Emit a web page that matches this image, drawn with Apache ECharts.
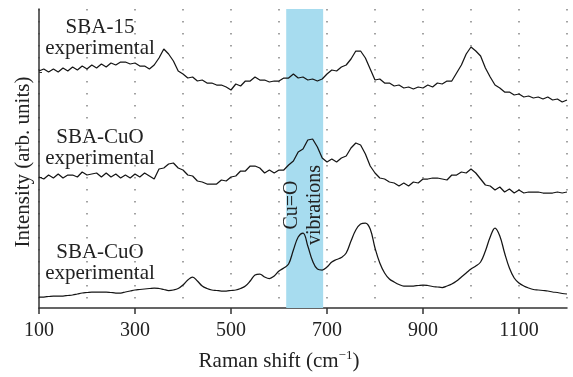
<!DOCTYPE html>
<html>
<head>
<meta charset="utf-8">
<script src="https://cdn.jsdelivr.net/npm/echarts@6/dist/echarts.min.js"></script>
<style>
html, body { margin: 0; padding: 0; background: #fff; }
#chart { width: 573px; height: 377px; }
</style>
</head>
<body>
<div id="chart"></div>
<script>
// Raman shift grid (cm-1)
var ramanShift = [
    100, 110, 120, 130, 140, 150, 160, 170, 180, 190,
    200, 210, 220, 230, 240, 250, 260, 270, 280, 290,
    300, 310, 320, 330, 340, 350, 360, 370, 380, 390,
    400, 410, 420, 430, 440, 450, 460, 470, 480, 490,
    500, 510, 520, 530, 540, 550, 560, 570, 580, 590,
    600, 610, 620, 630, 640, 650, 660, 670, 680, 690,
    700, 710, 720, 730, 740, 750, 760, 770, 780, 790,
    800, 810, 820, 830, 840, 850, 860, 870, 880, 890,
    900, 910, 920, 930, 940, 950, 960, 970, 980, 990,
    1000, 1010, 1020, 1030, 1040, 1050, 1060, 1070, 1080, 1090,
    1100, 1110, 1120, 1130, 1140, 1150, 1160, 1170, 1180, 1190,
    1200
];
// SBA-15 experimental (offset, arb. units)
var sba15 = [
    237, 239, 236, 239, 236, 240, 237, 241, 238, 242,
    239, 243, 240, 244, 241, 245, 243, 246, 246, 244,
    245, 242, 242, 239, 243, 250, 259, 254, 247, 237,
    234, 230, 231, 227, 228, 225, 225, 223, 223, 221,
    218, 224, 222, 227, 227, 231, 228, 228, 226, 227,
    227, 230, 230, 234, 230, 231, 228, 229, 227, 229,
    234, 238, 237, 241, 243, 249, 257, 257, 250, 239,
    228, 229, 225, 225, 222, 223, 220, 221, 219, 221,
    220, 223, 221, 225, 224, 227, 227, 235, 243, 254,
    261, 257, 252, 240, 231, 223, 220, 216, 216, 213,
    214, 211, 212, 210, 211, 209, 211, 208, 209, 206,
    208
];
// SBA-CuO experimental (offset)
var sbaCuO = [
    131, 129, 133, 130, 134, 130, 133, 133, 131, 136,
    133, 134, 135, 131, 135, 131, 134, 130, 133, 130,
    134, 131, 135, 132, 129, 139, 140, 144, 145, 140,
    138, 133, 132, 127, 126, 124, 124, 124, 128, 127,
    131, 132, 137, 137, 142, 142, 140, 135, 138, 135,
    138, 138, 143, 147, 156, 159, 168, 169, 161, 150,
    146, 149, 146, 150, 152, 160, 165, 163, 154, 142,
    135, 130, 129, 126, 125, 122, 125, 122, 126, 125,
    129, 129, 130, 130, 129, 128, 133, 133, 136, 135,
    139, 135, 129, 123, 122, 118, 121, 116, 119, 115,
    118, 115, 116, 116, 116, 115, 115, 115, 116, 115,
    116
];
// SBA-CuO (smooth, bottom)
var sbaCuOFit = [
    11, 11, 11.5, 12, 12, 12, 12.5, 13, 14, 15,
    15.5, 16, 16, 16, 16, 15.5, 15, 15, 16, 17,
    18, 18.5, 19, 19.5, 20, 19.5, 18.5, 17.5, 18, 19.5,
    23, 28, 31, 27, 22, 19.5, 18, 17.5, 17, 17,
    17.5, 18, 19.5, 22, 27, 33, 34, 31, 29.5, 32,
    37, 40, 44, 58, 71, 75, 62, 47, 39, 38,
    41, 46, 48.5, 50.5, 55, 67, 78, 84, 85, 79,
    60, 45, 35, 29, 26, 23.5, 22, 22, 22, 22.5,
    23, 22.5, 21.5, 21, 20.5, 22, 24, 27, 31, 35,
    39, 42, 46, 57, 71, 80, 72, 55, 40, 30,
    25, 22, 20, 18.5, 18, 17.5, 17, 16, 15.5, 14.5,
    14
];
var xTickLabels = [100, 300, 500, 700, 900, 1100];
var bandStart = 615;
var bandEnd = 692;
var baseTicks = [236, 131];

var font = '"Liberation Serif", "DejaVu Serif", serif';
var chart = echarts.init(document.getElementById('chart'));

function pairs(ys) {
    return ramanShift.map(function (x, i) { return [x, ys[i]]; });
}

var traceStyle = { color: '#151515', width: 1.25 };

var option = {
    animation: false,
    grid: { left: 39, right: 6, top: 9, bottom: 69, outerBoundsMode: 'none', containLabel: false },
    xAxis: [{
        type: 'value',
        min: 100,
        max: 1200,
        interval: 200,
        axisLine: { show: true, lineStyle: { color: '#333', width: 1.5 } },
        axisTick: { show: true, length: 6, customValues: xTickLabels, lineStyle: { color: '#333', width: 1.5 } },
        axisLabel: {
            margin: 13, fontSize: 20, fontFamily: font, color: '#222',
            customValues: xTickLabels,
            formatter: function (v) { return xTickLabels.indexOf(v) >= 0 ? String(v) : ''; }
        },
        splitLine: { show: false }
    }, {
        // dotted grid every 100
        type: 'value',
        min: 100,
        max: 1200,
        interval: 100,
        position: 'bottom',
        axisLine: { show: false },
        axisTick: { show: false },
        axisLabel: { show: false },
        splitLine: { show: true, lineStyle: { color: '#8c8c8c', width: 1.6, type: [1.6, 10.4] } }
    }],
    yAxis: {
        type: 'value',
        min: 0,
        max: 299,
        axisLine: { show: true, lineStyle: { color: '#333', width: 1.5 } },
        axisTick: { show: true, inside: true, length: 3, customValues: baseTicks, lineStyle: { color: '#333' } },
        axisLabel: { show: false },
        splitLine: { show: false }
    },
    series: [{
        type: 'line',
        data: [],
        z: 1,
        silent: true,
        markArea: {
            silent: true,
            itemStyle: { color: '#a7dcef' },
            data: [[{ xAxis: bandStart }, { xAxis: bandEnd }]]
        }
    }, {
        name: 'SBA-15 experimental',
        type: 'line',
        z: 3,
        symbol: 'none',
        lineStyle: traceStyle,
        data: pairs(sba15)
    }, {
        name: 'SBA-CuO experimental',
        type: 'line',
        z: 3,
        symbol: 'none',
        lineStyle: traceStyle,
        data: pairs(sbaCuO)
    }, {
        name: 'SBA-CuO',
        type: 'line',
        z: 3,
        symbol: 'none',
        smooth: 0.4,
        lineStyle: traceStyle,
        data: pairs(sbaCuOFit)
    }],
    graphic: [
        {
            type: 'text', x: 100, y: 38, z: 10,
            style: { text: 'SBA-15\nexperimental', font: '21px ' + font, fill: '#222', align: 'center', verticalAlign: 'middle', lineHeight: 21 }
        },
        {
            type: 'text', x: 100, y: 148, z: 10,
            style: { text: 'SBA-CuO\nexperimental', font: '21px ' + font, fill: '#222', align: 'center', verticalAlign: 'middle', lineHeight: 21 }
        },
        {
            type: 'text', x: 100, y: 263, z: 10,
            style: { text: 'SBA-CuO\nexperimental', font: '21px ' + font, fill: '#222', align: 'center', verticalAlign: 'middle', lineHeight: 21 }
        },
        {
            type: 'text', x: 303.5, y: 205, z: 10, rotation: Math.PI / 2,
            style: { text: 'Cu=O\nvibrations', font: '20px ' + font, fill: '#222', align: 'center', verticalAlign: 'middle', lineHeight: 23 }
        },
        {
            type: 'text', x: 23, y: 162, z: 10, rotation: Math.PI / 2,
            style: { text: 'Intensity (arb. units)', font: '21px ' + font, fill: '#222', align: 'center', verticalAlign: 'middle' }
        },
        {
            type: 'text', x: 279, y: 361, z: 10,
            style: {
                text: '{n|Raman shift (cm}{s|\u22121}{n|)}',
                align: 'center', verticalAlign: 'middle',
                rich: {
                    n: { fontSize: 21, fontFamily: font, fill: '#222', lineHeight: 24 },
                    s: { fontSize: 13, fontFamily: font, fill: '#222', verticalAlign: 'top', lineHeight: 14 }
                }
            }
        }
    ]
};

chart.setOption(option);
window.addEventListener('resize', function () {
    chart.resize();
});
</script>
</body>
</html>
